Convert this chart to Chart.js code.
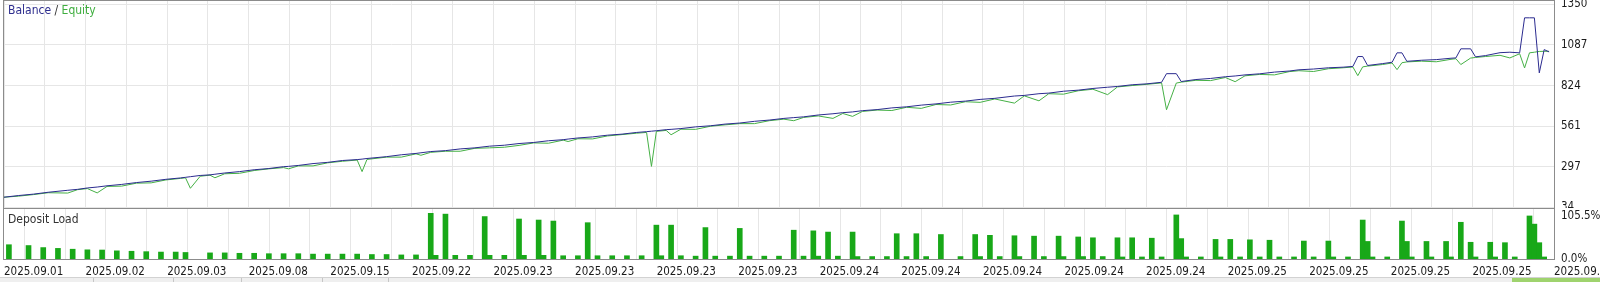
<!DOCTYPE html>
<html>
<head>
<meta charset="utf-8">
<title>Balance / Equity</title>
<script src="https://cdn.jsdelivr.net/npm/chart.js@4.4.1/dist/chart.umd.min.js"></script>
<style>
	body {margin: 0; background: #fff; font-family: 'DejaVu Sans Condensed', 'Liberation Sans', sans-serif; font-size: 12px;}
	#wrap {position: relative; width: 1600px; height: 282px; overflow: hidden;}
	canvas {position: absolute; left: 0;}
	#balance-chart {top: 0;}
	#load-chart {top: 208px;}
	.caption {position: absolute; left: 8px; line-height: 14px; white-space: nowrap; color: #333;}
	#tabs {position: absolute; left: 0; top: 277px; width: 1600px; height: 5px; background: #efefef; border-top: 1px solid #d2d2d2;}
	#tabs span {position: absolute; top: 0; bottom: 0; width: 1px; background: #c6c6c6;}
	#tabs .active {left: 1512px; width: 88px; background: #9fd36e;}
</style>
</head>
<body>
<div id="wrap">
	<canvas id="balance-chart" width="1600" height="208"></canvas>
	<canvas id="load-chart" width="1600" height="74"></canvas>
	<div class="caption" style="top: 3px;"><span style="color: #2e2e8e;">Balance</span> / <span style="color: #3fae3f;">Equity</span></div>
	<div class="caption" style="top: 212px;">Deposit Load</div>
	<div id="tabs">
		<span style="left: 93px;"></span>
		<span style="left: 173px;"></span>
		<span style="left: 241px;"></span>
		<span style="left: 322px;"></span>
		<span style="left: 388px;"></span>
		<span class="active"></span>
	</div>
</div>
<script>
// labels under the deposit load panel (one every second grid line)
$date_labels = ['2025.09.01', '2025.09.02', '2025.09.03', '2025.09.08', '2025.09.15',
				'2025.09.22', '2025.09.23', '2025.09.23', '2025.09.23', '2025.09.23',
				'2025.09.24', '2025.09.24', '2025.09.24', '2025.09.24', '2025.09.24',
				'2025.09.25', '2025.09.25', '2025.09.25', '2025.09.25', '2025.09.25'];
$balance_ticks = [34, 297, 561, 824, 1087, 1350];
$load_ticks = [0, 105.5];
$max_deal = 316;

// balance / equity by deal number
$deals = [0, 3, 6, 9, 13, 15, 17, 19, 21, 24,
		27, 30, 33, 36, 37, 38, 40, 42, 43, 45,
		48, 51, 54, 57, 58, 60, 63, 66, 69, 72,
		73, 74, 78, 81, 84, 85, 87, 90, 93, 96,
		99, 102, 105, 108, 111, 114, 115, 117, 120, 123,
		126, 129, 131, 132, 133, 135, 136, 138, 141, 144,
		147, 150, 153, 156, 159, 161, 163, 166, 169, 171,
		173, 175, 178, 181, 184, 187, 190, 193, 196, 199,
		202, 206, 208, 211, 213, 216, 219, 222, 225, 227,
		230, 233, 236, 237, 239, 240, 243, 246, 249, 251,
		253, 256, 259, 262, 264, 267, 270, 273, 275, 276,
		277, 278, 281, 283, 284, 285, 286, 289, 292, 295,
		296, 297, 299, 300, 302, 305, 307, 309, 310, 311,
		312, 313, 314, 315];
$balance = [100, 111, 120, 132, 145, 151, 160, 166, 174, 183,
		195, 204, 216, 225, 229, 233, 241, 245, 249, 257,
		266, 278, 286, 298, 300, 306, 318, 326, 338, 344,
		347, 351, 363, 375, 384, 388, 396, 402, 413, 420,
		431, 437, 448, 455, 466, 473, 477, 484, 491, 502,
		509, 520, 525, 528, 531, 538, 540, 545, 556, 563,
		574, 581, 592, 600, 611, 616, 621, 633, 641, 648,
		653, 661, 668, 679, 686, 697, 705, 716, 723, 734,
		741, 756, 760, 771, 775, 787, 794, 805, 813, 818,
		829, 835, 845, 901, 901, 850, 863, 870, 881, 886,
		893, 900, 911, 918, 926, 931, 939, 943, 948, 1012,
		1012, 954, 966, 975, 1036, 1036, 981, 988, 992, 1001,
		1003, 1062, 1062, 1010, 1018, 1037, 1040, 1036, 1263, 1263,
		1263, 906, 1057, 1042];
$equity = [100, 107, 117, 129, 127, 149, 156, 128, 170, 172,
		191, 193, 212, 222, 226, 158, 236, 243, 226, 252,
		255, 273, 284, 292, 284, 303, 303, 323, 333, 341,
		266, 345, 360, 360, 381, 372, 391, 398, 398, 417,
		420, 424, 436, 452, 450, 470, 461, 479, 478, 497,
		506, 515, 520, 300, 527, 533, 505, 541, 540, 560,
		569, 577, 577, 596, 606, 596, 617, 627, 611, 643,
		624, 656, 665, 662, 683, 676, 701, 698, 719, 715,
		737, 710, 757, 725, 771, 768, 790, 800, 765, 815,
		824, 832, 841, 667, 840, 846, 858, 856, 876, 849,
		887, 896, 893, 914, 920, 915, 933, 939, 944, 888,
		945, 950, 960, 970, 927, 972, 977, 982, 978, 994,
		998, 960, 1002, 1006, 1012, 1020, 1003, 1030, 938, 1036,
		1040, 1045, 1046, 1046];

// deposit load, %
$load_deals = [1, 5, 8, 11, 14, 17, 20, 23, 26, 29, 32, 35, 37, 42, 45, 48, 51, 54, 57, 60, 63, 66, 69, 72, 75, 78, 81, 84,
		87, 88, 90, 92, 95, 98, 99, 102, 105, 106, 109, 110, 112, 114, 117, 119, 121, 124, 127, 130, 133, 134, 136, 138, 141, 143, 145, 148, 150, 152, 155, 158, 161, 163,
		165, 166, 168, 170, 173, 174, 177, 180, 182, 184, 186, 188, 191, 195, 198, 199, 201, 203, 206, 207, 210, 212, 215, 216, 219, 220, 222, 224, 227, 228, 230, 232, 234, 236, 239, 240, 241, 244,
		247, 248, 250, 252, 254, 256, 258, 260, 263, 265, 267, 270, 271, 274, 277, 278, 279, 282, 285, 286, 287, 290, 291, 294, 295, 297, 299, 300, 303, 304, 306, 308, 311, 312, 313, 314];
$load_values = [35, 33, 28, 26, 24, 22.5, 22, 20, 19, 18, 17, 17, 16, 15, 15, 14, 14, 13, 13, 13, 12, 12, 12, 12, 11, 11, 10, 10,
		112, 9, 110, 9, 9, 104, 9, 9, 98, 9, 95.5, 9, 93, 8, 8, 89, 8, 8, 8, 8, 83, 8, 83, 8, 7, 77, 7, 7, 75, 7, 7, 7, 70.6, 7,
		69, 7, 66, 7, 66, 6, 6, 6, 62, 6, 62, 6, 60, 6, 60, 6, 58, 6, 57, 6, 56, 6, 56, 6, 54, 6, 52, 6, 52, 5, 52, 5, 51, 5, 108, 50, 5, 5,
		48, 5, 48, 5, 47, 5, 46, 5, 5, 44, 5, 44, 5, 5, 95.5, 43, 5, 5, 93, 43, 5, 43, 5, 43, 5, 90, 41, 5, 41, 5, 40, 5, 105.5, 85.5, 40, 5];

Chart.defaults.font.family = "'DejaVu Sans Condensed', 'Liberation Sans', sans-serif";
Chart.defaults.font.size = 11.5;
Chart.defaults.color = '#1a1a1a';

$frame = {
	id: 'frame',
	afterDraw: function($chart) {
		$a = $chart.chartArea;
		$c = $chart.ctx;
		$c.save();
		$c.strokeStyle = '#8c8c8c';
		$c.lineWidth = 1;
		$c.strokeRect(Math.round($a.left) - 0.5, Math.round($a.top) + 0.5, Math.round($a.right - $a.left) + 1, Math.round($a.bottom - $a.top));
		$c.restore();
	}
};

function grid_ticks () {
	$ticks = [];
	for ($i = 0; $i <= 38; $i++) {
		$ticks.push({value: $i * $max_deal / 38});
	}
	return $ticks;
}

function chart_balance ($ctx) {
	$balance_points = [];
	$equity_points = [];
	for ($i = 0; $i < $deals.length; $i++) {
		$balance_points.push({x: $deals[$i], y: $balance[$i]});
		$equity_points.push({x: $deals[$i], y: $equity[$i]});
	}

	window.myLine = new Chart($ctx, {
		type: 'line',
		data: {
			datasets: [{
				label: 'Balance',
				data: $balance_points,
				borderColor: '#2b2b8f',
				borderWidth: 1,
				pointRadius: 0,
				tension: 0
			}, {
				label: 'Equity',
				data: $equity_points,
				borderColor: '#45b045',
				borderWidth: 1,
				pointRadius: 0,
				tension: 0
			}]
		},
		options: {
			responsive: false,
			animation: false,
			layout: {padding: {left: 4, right: 0, top: 0, bottom: 0}},
			plugins: {legend: {display: false}, tooltip: {enabled: false}},
			scales: {
				x: {
					type: 'linear',
					min: 0,
					max: $max_deal,
					afterBuildTicks: function($s) { $s.ticks = grid_ticks(); },
					afterFit: function($s) { $s.height = 0; $s.paddingLeft = 0; $s.paddingRight = 0; },
					ticks: {display: false},
					grid: {color: '#e6e6e6', drawTicks: false},
					border: {display: false}
				},
				y: {
					position: 'right',
					min: 30.1,
					max: 1378.5,
					afterBuildTicks: function($s) {
						$s.ticks = $balance_ticks.map(function($v) { return {value: $v}; });
					},
					afterFit: function($s) { $s.width = 46; $s.paddingTop = 0; $s.paddingBottom = 0; },
					ticks: {
						padding: 7,
						callback: function($v) { return String($v); }
					},
					grid: {color: '#e6e6e6', drawTicks: false},
					border: {display: false}
				}
			}
		},
		plugins: [$frame]
	});
}

function chart_load ($ctx) {
	$points = [];
	for ($i = 0; $i < $load_deals.length; $i++) {
		$points.push({x: $load_deals[$i], y: $load_values[$i]});
	}

	window.myBar = new Chart($ctx, {
		type: 'bar',
		data: {
			datasets: [{
				label: 'Deposit Load',
				data: $points,
				backgroundColor: '#18a818',
				barThickness: 5,
				grouped: false
			}]
		},
		options: {
			responsive: false,
			animation: false,
			layout: {padding: {left: 4, right: 0, top: 0, bottom: 0}},
			plugins: {legend: {display: false}, tooltip: {enabled: false}},
			scales: {
				x: {
					type: 'linear',
					min: 0,
					max: $max_deal,
					offset: false,
					afterBuildTicks: function($s) { $s.ticks = grid_ticks(); },
					afterFit: function($s) { $s.height = 23; $s.paddingLeft = 0; $s.paddingRight = 0; },
					ticks: {
						autoSkip: false,
						maxRotation: 0,
						minRotation: 0,
						align: 'start',
						padding: 6,
						callback: function($v, $index) {
							return $index % 2 == 0 ? $date_labels[$index / 2] : '';
						}
					},
					grid: {color: '#e6e6e6', drawTicks: false},
					border: {display: false}
				},
				y: {
					position: 'right',
					min: 0,
					max: 125,
					afterBuildTicks: function($s) {
						$s.ticks = $load_ticks.map(function($v) { return {value: $v}; });
					},
					afterFit: function($s) { $s.width = 46; $s.paddingTop = 0; $s.paddingBottom = 0; },
					ticks: {
						padding: 7,
						callback: function($v) { return $v.toFixed(1) + '%'; }
					},
					grid: {display: false, drawTicks: false},
					border: {display: false}
				}
			}
		},
		plugins: [$frame]
	});
}

chart_balance(document.getElementById('balance-chart'));
chart_load(document.getElementById('load-chart'));
</script>
</body>
</html>
